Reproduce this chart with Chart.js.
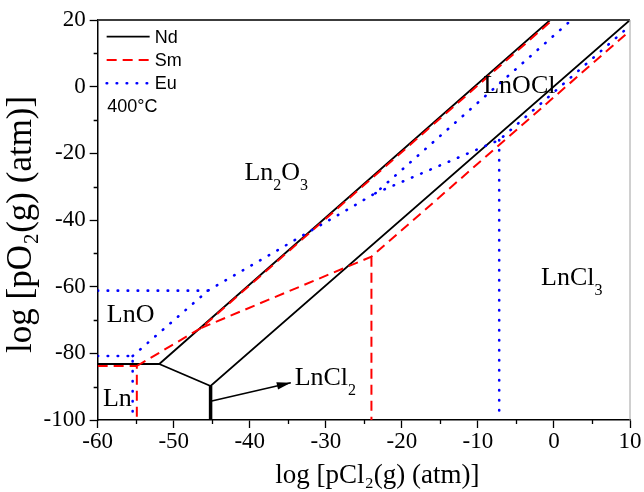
<!DOCTYPE html>
<html>
<head>
<meta charset="utf-8">
<script src="https://cdn.jsdelivr.net/npm/chart.js@4.4.1/dist/chart.umd.min.js"></script>
<style>
  html, body { margin: 0; padding: 0; background: #fff; overflow: hidden; }
  #wrap { width: 644px; height: 492px; }
</style>
</head>
<body>
<div id="wrap"><canvas id="diagram"></canvas></div>
<script>
// phase boundaries, [log pCl2, log pO2]
var ndLines = [
  [[-60, -83.2], [-51.9, -83.2], [-0.5, 20]],
  [[-51.9, -83.2], [-45.15, -89.8], [10, 20]]
];
var ndLnCl2 = [[-45.15, -89.8], [-45.15, -100]];
var ndArrow = [[-45.0, -94.3], [-34.6, -88.8]];

var smLines = [
  [[-60, -83.8], [-54.85, -83.8], [-54.85, -100]],
  [[-54.85, -83.8], [-46.4, -72.4], [-0.2, 20]],
  [[-46.4, -72.4], [-24, -51], [10, 16.8]],
  [[-24, -51], [-24, -100]]
];

var euLines = [
  [[-60, -80.8], [-55.4, -80.8], [-55.4, -100]],
  [[-55.4, -80.8], [-45.5, -61.2], [-23.5, -32], [2.3, 20]],
  [[-60, -61.2], [-45.5, -61.2]],
  [[-23.5, -32], [-7.2, -16], [10, 18.3]],
  [[-7.2, -16], [-7.2, -100]]
];

var xTicks = [-60, -50, -40, -30, -20, -10, 0, 10];
var yTicks = [-100, -80, -60, -40, -20, 0, 20];

// phase field names and where they sit (data units, left/baseline)
var phaseNames = ['Ln', 'LnO', 'Ln2O3', 'LnOCl', 'LnCl3', 'LnCl2'];
var phaseX = [-59.3, -58.8, -40.7, -9.3, -1.7, -34.1];
var phaseY = [-95.9, -70.7, -27.9, -2.0, -59.4, -89.4];

var legendNames = ['Nd', 'Sm', 'Eu'];

function toPoints(lines) {
  var pts = [];
  lines.forEach(function (l, i) {
    if (i) pts.push({x: null, y: null});
    l.forEach(function (p) { pts.push({x: p[0], y: p[1]}); });
  });
  return pts;
}

var serif = "'Liberation Serif', 'Times New Roman', serif";
var sans = "'Liberation Sans', Arial, sans-serif";

Chart.defaults.font.family = serif;
Chart.defaults.font.size = 23;
Chart.defaults.color = '#000';

var decor = {
  id: 'decor',
  afterDatasetsDraw: function (chart) {
    var ctx = chart.ctx, xs = chart.scales.x, ys = chart.scales.y;
    ctx.save();
    ctx.fillStyle = '#000';
    ctx.textBaseline = 'alphabetic';
    phaseNames.forEach(function (name, i) {
      var cx = xs.getPixelForValue(phaseX[i]);
      var cy = ys.getPixelForValue(phaseY[i]);
      name.split(/(\d)/).forEach(function (part) {
        if (!part) return;
        var sub = /\d/.test(part);
        ctx.font = (sub ? '16px ' : '26px ') + serif;
        ctx.fillText(part, cx, sub ? cy + 10 : cy);
        cx += ctx.measureText(part).width;
      });
    });
    // arrow head at the end of the LnCl2 pointer
    var pts = chart.getDatasetMeta(2).data;
    var a = pts[pts.length - 2], b = pts[pts.length - 1];
    var ang = Math.atan2(b.y - a.y, b.x - a.x);
    ctx.translate(b.x, b.y);
    ctx.rotate(ang);
    ctx.beginPath();
    ctx.moveTo(0, 0);
    ctx.lineTo(-14, -3.8);
    ctx.lineTo(-14, 3.8);
    ctx.closePath();
    ctx.fill();
    ctx.restore();
  },
  afterDraw: function (chart) {
    var ctx = chart.ctx, area = chart.chartArea;
    var xs = chart.scales.x, ys = chart.scales.y;
    ctx.save();
    // frame top and right
    ctx.strokeStyle = '#3c3c3c';
    ctx.lineWidth = 2;
    ctx.beginPath();
    ctx.moveTo(area.left, area.top);
    ctx.lineTo(area.right, area.top);
    ctx.stroke();
    ctx.strokeStyle = '#a0a0a0';
    ctx.lineWidth = 1;
    ctx.beginPath();
    ctx.moveTo(area.right, area.top);
    ctx.lineTo(area.right, area.bottom);
    ctx.stroke();
    // minor ticks
    ctx.strokeStyle = '#000';
    ctx.lineWidth = 1.3;
    ctx.beginPath();
    for (var v = -55; v < 10; v += 10) {
      var px = Math.round(xs.getPixelForValue(v)) + 0.5;
      ctx.moveTo(px, area.bottom);
      ctx.lineTo(px, area.bottom + 4);
    }
    for (var w = -90; w < 20; w += 20) {
      var py = Math.round(ys.getPixelForValue(w)) + 0.5;
      ctx.moveTo(area.left, py);
      ctx.lineTo(area.left - 4, py);
    }
    ctx.stroke();
    // legend
    ctx.font = '18px ' + sans;
    ctx.textBaseline = 'middle';
    ctx.fillStyle = '#000';
    legendNames.forEach(function (name, i) {
      var ds = chart.data.datasets.find(function (d) { return d.label === name; });
      var y = area.top + 16.7 + i * 23.3;
      ctx.strokeStyle = ds.borderColor;
      ctx.lineWidth = ds.borderWidth;
      ctx.lineCap = ds.borderCapStyle || 'butt';
      ctx.setLineDash(ds.borderDash || []);
      ctx.beginPath();
      ctx.moveTo(area.left + 9, y);
      ctx.lineTo(area.left + 52, y);
      ctx.stroke();
      ctx.setLineDash([]);
      ctx.fillText(name, area.left + 57, y + 1);
    });
    ctx.fillText('400°C', area.left + 9.5, area.top + 87.5);
    ctx.restore();
  }
};

new Chart(document.getElementById('diagram'), {
  type: 'scatter',
  data: {
    datasets: [
      {label: 'Nd', data: toPoints(ndLines), borderColor: '#000', borderWidth: 1.8, order: 3},
      {label: 'Nd LnCl2', data: toPoints([ndLnCl2]), borderColor: '#000', borderWidth: 3.5, order: 3},
      {label: 'pointer', data: toPoints([ndArrow]), borderColor: '#000', borderWidth: 1.6, order: 3},
      {label: 'Sm', data: toPoints(smLines), borderColor: '#ff0000', borderWidth: 2, borderDash: [10, 6], order: 2},
      {label: 'Eu', data: toPoints(euLines), borderColor: '#0000ff', borderWidth: 2.6, borderDash: [0.5, 9.5], borderCapStyle: 'round', order: 1}
    ]
  },
  options: {
    responsive: true,
    maintainAspectRatio: false,
    animation: false,
    events: [],
    layout: {padding: {top: 20, right: 14, bottom: 0, left: 0}},
    datasets: {scatter: {showLine: true, pointRadius: 0, tension: 0, spanGaps: false}},
    plugins: {legend: {display: false}, tooltip: {enabled: false}},
    scales: {
      x: {
        type: 'linear', min: -60, max: 10,
        afterBuildTicks: function (s) { s.ticks = xTicks.map(function (v) { return {value: v}; }); },
        ticks: {color: '#000', padding: 0, font: {family: serif, size: 23}},
        grid: {drawOnChartArea: false, tickLength: 8, color: '#000', tickWidth: 1.3},
        border: {display: true, color: '#000', width: 1.5},
        title: {display: true, text: '\u2003log [pCl₂(g) (atm)]', color: '#000',
          font: {family: serif, size: 27, lineHeight: 1.2}, padding: {top: 4, bottom: 0}}
      },
      y: {
        type: 'linear', min: -100, max: 20,
        afterBuildTicks: function (s) { s.ticks = yTicks.map(function (v) { return {value: v}; }); },
        ticks: {color: '#000', padding: 4, font: {family: serif, size: 23}},
        grid: {drawOnChartArea: false, tickLength: 8, color: '#000', tickWidth: 1.3},
        border: {display: true, color: '#000', width: 1.5},
        title: {display: true, text: 'log [pO₂(g) (atm)] ', color: '#000',
          font: {family: serif, size: 35, lineHeight: 1.0}, padding: {top: 4, bottom: 0.5}}
      }
    }
  },
  plugins: [decor]
});
</script>
</body>
</html>
